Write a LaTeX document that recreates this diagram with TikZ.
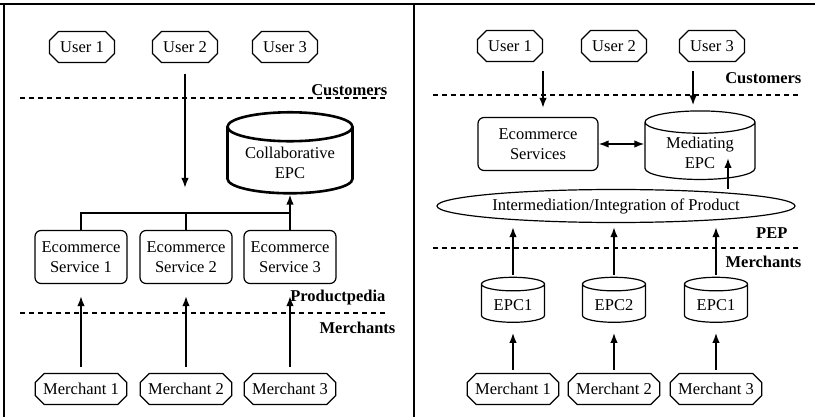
\documentclass[tikz,border=0pt]{standalone}
\usepackage{fontspec}
\setmainfont{Liberation Serif}
\usetikzlibrary{calc,positioning,arrows.meta,shapes.misc,shapes.geometric}

\begin{document}
\begin{tikzpicture}[x=1pt,y=-1pt,>={Latex[length=10pt,width=7.5pt]},
    font=\rmfamily\fontsize{16.5}{20}\selectfont,line width=1.2pt,
    actor/.style={chamfered rectangle,draw,chamfered rectangle xsep=6pt,
        inner xsep=2pt,minimum height=31pt},
    service/.style={draw,rounded corners=6pt,align=center,minimum height=53pt},
    store/.style={cylinder,draw,shape border rotate=90,aspect=0.3,align=center},
    layer/.style={dash pattern=on 5pt off 4pt},
    link/.style={line width=1.7pt},
    tag/.style={font=\rmfamily\fontsize{16.5}{20}\selectfont\bfseries,anchor=east,inner sep=0pt}]
    \useasboundingbox (0,0) rectangle (815,417);
    % frame
    \draw [line width=1.6pt] (0,4) -- (815,4);
    \draw [line width=1.6pt] (4,4) -- (4,417);
    \draw [line width=1.6pt] (414,4) -- (414,417);

    % --- left: Productpedia ---
    \foreach \i/\x in {1/82,2/185,3/285}
        \node [actor,minimum width=65pt] (lu\i) at (\x,47) {User \i};
    \draw [layer] (20,98) -- (385,98);
    \draw [layer] (20,313) -- (385,313);
    \node [tag] (lcust) at (388,90) {Customers};
    \node [tag] (lprod) at (386,298) {Productpedia};
    \node [tag] (lmerc) at (396,328) {Merchants};
    \node [store,line width=2.6pt,minimum width=125pt,minimum height=81pt] (cepc) at (290,163) {Collaborative\\EPC};
    \foreach \i/\x in {1/81,2/186,3/290}
        \node [service,minimum width=92pt] (ls\i) at (\x,257) {Ecommerce\\Service \i};
    \foreach \i/\x in {1/81,2/186,3/290}
        \node [actor] (lm\i) at (\x,389) {Merchant \i};
    \coordinate (u2end) at (185,188);
    \coordinate (bus) at (290,213);
    \draw [link,->,shorten <=11pt] (lu2) -- (u2end);
    \draw [link] (ls1.north) |- (bus);
    \draw [link] (ls2.north) -- (ls2.north |- bus);
    \draw [link,->] (ls3.north) -- (cepc.bottom);
    \foreach \i in {1,2,3}
        \draw [link,->,shorten <=6pt,shorten >=12pt] (lm\i) -- (ls\i);

    % --- right: PEP ---
    \foreach \i/\x in {1/510,2/614,3/712}
        \node [actor,minimum width=65pt] (ru\i) at (\x,46) {User \i};
    \draw [layer] (433,95) -- (798,95);
    \draw [layer] (433,248) -- (798,248);
    \node [tag] (rcust) at (802,78) {Customers};
    \node [tag] (rpep) at (788,233) {PEP};
    \node [tag] (rmerc) at (802,262) {Merchants};
    \node [service,minimum width=120pt] (res) at (538,144) {Ecommerce\\Services};
    \node [store,minimum width=110pt,minimum height=61pt] (mepc) at (700,153) {Mediating\\EPC};
    \node [ellipse,draw,minimum width=358pt,minimum height=33pt,inner sep=0pt] (integ) at (616,206) {Intermediation/Integration of Product};
    \foreach \i/\t/\x in {1/EPC1/513,2/EPC2/614,3/EPC1/716}
        \node [store,minimum width=63pt,minimum height=45pt] (epc\i) at (\x,305) {\t};
    \foreach \i/\x in {1/513,2/614,3/716}
        \node [actor] (rm\i) at (\x,389) {Merchant \i};
    \coordinate (mepcin) at (728,158);
    \draw [link,->,shorten <=9pt,shorten >=9pt] ([xshift=5pt]res.north |- ru1.south) -- ([xshift=5pt]res.north);
    \draw [link,->,shorten <=9pt,shorten >=5pt] ([xshift=-7pt]mepc.top |- ru3.south) -- ([xshift=-7pt]mepc.top);
    \draw [link,<->] (res.east) -- (res.east -| mepc.west);
    \draw [link,->] (mepcin |- integ.north) -- (mepcin);
    \foreach \i in {1,2,3} {
        \draw [link,->,shorten <=2pt,shorten >=4pt] (epc\i.top) -- (epc\i.top |- integ.south);
        \draw [link,->,shorten <=3pt,shorten >=10pt] (rm\i) -- (epc\i.bottom);
    }
\end{tikzpicture}
\end{document}
